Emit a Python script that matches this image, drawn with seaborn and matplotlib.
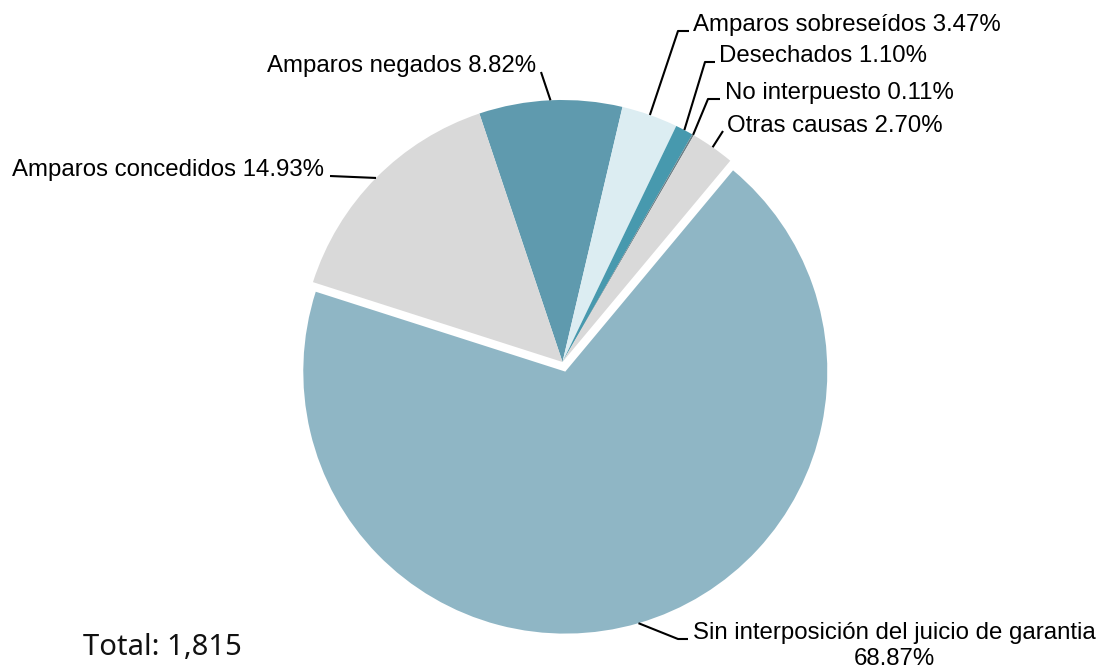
import numpy as np
import matplotlib
matplotlib.use("Agg")
import matplotlib.pyplot as plt
import seaborn as sns

categories = ["Amparos negados", "Amparos sobreseídos", "Desechados", "No interpuesto",
              "Otras causas", "Sin interposición del juicio de garantia", "Amparos concedidos"]
counts = [160, 63, 20, 2, 49, 1250, 271]
percent_labels = ["8.82%", "3.47%", "1.10%", "0.11%", "2.70%", "68.87%", "14.93%"]
total_label = "Total: 1,815"

colors = ["#5f9aae", "#dcedf2", "#4799ae", "#6b7f86", "#d9d9d9", "#8fb6c5", "#d9d9d9"]

sns.set_theme(style="white")
plt.rcParams["font.family"] = ["Liberation Sans", "DejaVu Sans"]

W, H = 1099, 668
fig = plt.figure(figsize=(W / 100, H / 100), dpi=100)
ax = fig.add_axes([0, 0, 1, 1])

cx, cy, R = 562.5, H - 362, 262
explode = [0, 0, 0, 0, 0, 10, 0]
wedges, _ = ax.pie(counts, colors=colors, startangle=108.5, counterclock=False,
                   center=(cx, cy), radius=R, explode=explode,
                   wedgeprops=dict(linewidth=0))
ax.set_xlim(0, W)
ax.set_ylim(0, H)
ax.set_aspect("equal")
ax.axis("off")

# label layout: (knee points in pixel coords from top, text anchor, ha)
layout = [
    ([(541, 72)], (536, 72), "right"),
    ([(678, 31), (689, 31)], (693, 31), "left"),
    ([(705, 62), (715, 62)], (719, 62), "left"),
    ([(708, 99), (720, 99)], (725, 99), "left"),
    ([(723, 131)], (727, 132), "left"),
    ([(678, 639), (688, 639)], (693, 639), "left"),
    ([(330, 176)], (324, 176), "right"),
]

fs = 17.3
for i, (w, (knees, (tx, ty), ha)) in enumerate(zip(wedges, layout)):
    th = np.deg2rad((w.theta1 + w.theta2) / 2)
    wx, wy = w.center
    ax_ = wx + w.r * np.cos(th)
    ay_ = wy + w.r * np.sin(th)
    xs = [ax_] + [k[0] for k in knees]
    ys = [ay_] + [H - k[1] for k in knees]
    ax.plot(xs, ys, color="black", lw=1.5, solid_capstyle="butt")
    if categories[i].startswith("Sin"):
        ax.text(tx, H - ty, categories[i], ha="left", va="baseline", fontsize=fs, color="black")
        ax.text(894, H - 665, percent_labels[i], ha="center", va="baseline", fontsize=fs, color="black")
    else:
        ax.text(tx, H - ty, f"{categories[i]} {percent_labels[i]}", ha=ha, va="baseline",
                fontsize=fs, color="black")

ax.text(83, H - 655, total_label, ha="left", va="baseline", fontsize=21,
        family=["Noto Sans", "DejaVu Sans"], color="#111111")

fig.savefig("out.png", dpi=100)
